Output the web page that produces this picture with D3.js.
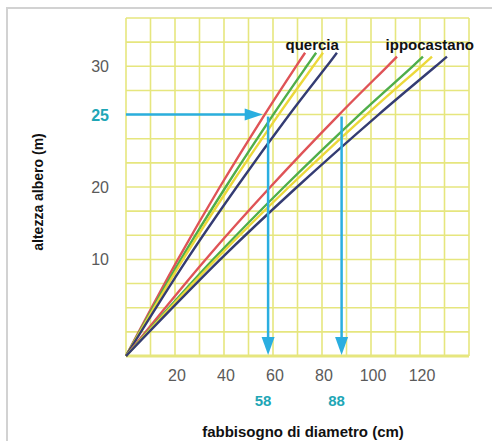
<!DOCTYPE html>
<html><head><meta charset="utf-8">
<script src="https://cdn.jsdelivr.net/npm/d3@7"></script>
<style>body{margin:0;background:#fff}svg{display:block}</style>
</head><body>
<svg id="c" width="495" height="441"></svg>
<script>
// ---- data ----
const xTicks = [20, 40, 60, 80, 100, 120];
const yTicks = [10, 20, 25, 30];
const yLabelDomain = [0, 10, 20, 25, 30, 35];
const querciaHeights = [0, 10, 20, 25, 30, 31.4];
const querciaRed    = [0, 21.2, 38.3, 56.6, 69.4, 73.1];
const querciaGreen  = [0, 22.4, 40.7, 60.1, 73.7, 77.6];
const querciaYellow = [0, 23.3, 42.2, 62.3, 76.4, 80.4];
const querciaNavy   = [0, 24.9, 45.2, 66.7, 81.9, 86.1];
const ippoHeights = [0, 10, 20, 25, 30, 31];
const ippoRed    = [0, 32.5, 58.9, 87.0, 106.7, 110.6];
const ippoGreen  = [0, 35.6, 64.5, 95.3, 117.0, 121.2];
const ippoYellow = [0, 36.7, 66.5, 98.2, 120.5, 124.9];
const ippoNavy   = [0, 38.5, 69.8, 103.1, 126.4, 131.0];
const targetHeight = 25;
const readings = [58, 88];
const arrowTip = 55.8;
const groupLabels = [{name: "quercia", d: 76, h: 31.7}, {name: "ippocastano", d: 124, h: 31.7}];

// ---- layout ----
const svg = d3.select("#c");
const L = 126, R = 469, T = 18, B = 356;
const rowH = (B - T) / 14;
const x = d3.scaleLinear().domain([0, 140]).range([L, R]);
const y = d3.scaleLinear().domain(yLabelDomain)
  .range([B, B - 4 * rowH, B - 7 * rowH, B - 10 * rowH, B - 12 * rowH, T]);
const row = d3.scaleLinear().domain([0, 14]).range([B, T]);

const font = "'Liberation Sans', Arial, sans-serif";
const teal = "#1ea6b6", arrowCol = "#2aaee0";
const colors = {red: "#df5357", green: "#4fae4a", yellow: "#ecd83a", navy: "#343c73"};

// outer frame
svg.append("path").attr("d", "M7,441 V8 H492").attr("fill", "none")
  .attr("stroke", "#d2d2d2").attr("stroke-width", 2);

// grid
const g = svg.append("g");
g.selectAll("line.v").data(d3.range(0, 141, 10)).join("line")
  .attr("x1", d => x(d)).attr("x2", d => x(d)).attr("y1", T).attr("y2", B)
  .attr("stroke", "#e6e67e").attr("stroke-width", 1.6);
g.selectAll("line.h").data(d3.range(0, 15)).join("line")
  .attr("y1", d => row(d)).attr("y2", d => row(d)).attr("x1", L).attr("x2", R)
  .attr("stroke", "#e6e67e").attr("stroke-width", d => d === 0 ? 3 : 1.6);

// series lines
const line = d3.line().x(d => x(d[0])).y(d => y(d[1])).curve(d3.curveCatmullRom);
const series = [
  [querciaRed, querciaHeights, "red"], [querciaGreen, querciaHeights, "green"],
  [querciaYellow, querciaHeights, "yellow"], [querciaNavy, querciaHeights, "navy"],
  [ippoRed, ippoHeights, "red"], [ippoGreen, ippoHeights, "green"],
  [ippoYellow, ippoHeights, "yellow"], [ippoNavy, ippoHeights, "navy"]
];
svg.append("g").selectAll("path").data(series).join("path")
  .attr("d", s => line(s[0].map((v, i) => [v, s[1][i]])))
  .attr("fill", "none").attr("stroke", s => colors[s[2]]).attr("stroke-width", 2.4);

// arrows
const ay = y(targetHeight);
svg.append("line").attr("x1", x(0)).attr("x2", x(arrowTip) - 14).attr("y1", ay).attr("y2", ay)
  .attr("stroke", arrowCol).attr("stroke-width", 2.5);
svg.append("path").attr("d", `M${x(arrowTip)},${ay} l-18,-6 v12 z`).attr("fill", arrowCol);
readings.forEach(r => {
  svg.append("line").attr("x1", x(r)).attr("x2", x(r)).attr("y1", ay + 2).attr("y2", y(0) - 14)
    .attr("stroke", arrowCol).attr("stroke-width", 2.5);
  svg.append("path").attr("d", `M${x(r)},${y(0) - 1} l-6.5,-18 h13 z`).attr("fill", arrowCol);
});

// tick labels
svg.append("g").selectAll("text").data(xTicks).join("text")
  .attr("x", d => x(d) + 2).attr("y", 381).attr("text-anchor", "middle")
  .attr("font-family", font).attr("font-size", 16).attr("fill", "#5a5a5a").text(d => d);
svg.append("g").selectAll("text").data(yTicks).join("text")
  .attr("x", 109).attr("y", d => y(d) + 6).attr("text-anchor", "end")
  .attr("font-family", font).attr("font-size", 16)
  .attr("font-weight", d => d === targetHeight ? "bold" : "normal")
  .attr("fill", d => d === targetHeight ? teal : "#5a5a5a").text(d => d);
svg.append("g").selectAll("text").data(readings).join("text")
  .attr("x", d => x(d) - 5).attr("y", 406).attr("text-anchor", "middle")
  .attr("font-family", font).attr("font-size", 15).attr("font-weight", "bold")
  .attr("fill", teal).text(d => d);

// group labels
svg.append("g").selectAll("text").data(groupLabels).join("text")
  .attr("x", d => x(d.d)).attr("y", d => y(d.h)).attr("text-anchor", "middle")
  .attr("font-family", font).attr("font-size", 15).attr("font-weight", "bold")
  .attr("fill", "#111").text(d => d.name);

// axis titles
svg.append("text").attr("x", 303).attr("y", 437).attr("text-anchor", "middle")
  .attr("font-family", font).attr("font-size", 15).attr("font-weight", "bold")
  .attr("fill", "#111").text("fabbisogno di diametro (cm)");
svg.append("text").attr("transform", "translate(43,192) rotate(-90)").attr("text-anchor", "middle")
  .attr("font-family", font).attr("font-size", 14).attr("font-weight", "bold")
  .attr("fill", "#111").text("altezza albero (m)");
</script>
</body></html>
